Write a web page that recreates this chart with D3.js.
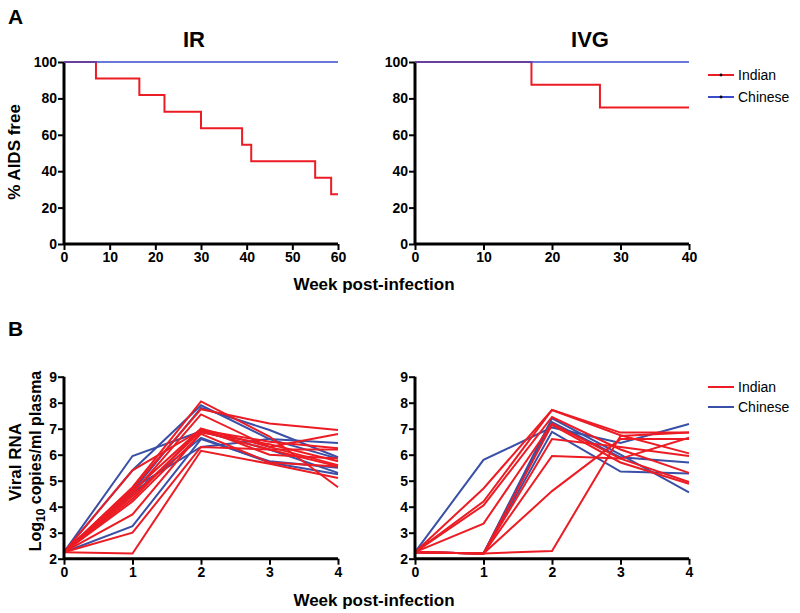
<!DOCTYPE html>
<html><head><meta charset="utf-8">
<script src="https://cdn.jsdelivr.net/npm/d3@7"></script>
<style>body{margin:0;background:#fff}svg{display:block;font-family:"Liberation Sans",Arial,sans-serif}</style>
</head><body><svg id="c" width="800" height="613"></svg>
<script>
// ---------- DATA ----------
const seriesNames = ["Indian", "Chinese"];
// Panel A: survival (% AIDS free)
const irIndianWeeks = [0, 7, 16.5, 22, 30, 39, 41, 55, 58.5, 60];
const irIndianPct   = [100, 90.9, 81.8, 72.7, 63.6, 54.5, 45.5, 36.4, 27.3, 27.3];
const irChineseWeeks = [0, 60];
const irChinesePct   = [100, 100];
const ivgIndianWeeks = [0, 17, 27, 40];
const ivgIndianPct   = [100, 87.5, 75, 75];
const ivgChineseWeeks = [0, 40];
const ivgChinesePct   = [100, 100];
const survTicksY = [0, 20, 40, 60, 80, 100];
const irTicksX = [0, 10, 20, 30, 40, 50, 60];
const ivgTicksX = [0, 10, 20, 30, 40];
// Panel B: viral RNA (log10 copies/ml), weeks 0..4
const vlWeeks = [0, 1, 2, 3, 4];
const irIndianVL = [
  [2.25, 2.2, 6.15, 5.65, 5.1],
  [2.25, 3.0, 6.3, 6.2, 5.55],
  [2.25, 3.7, 6.85, 6.4, 5.75],
  [2.25, 5.4, 6.95, 6.5, 6.25],
  [2.25, 4.75, 8.05, 6.7, 4.75],
  [2.25, 4.7, 7.75, 7.2, 6.95],
  [2.25, 4.6, 7.0, 6.3, 6.8],
  [2.25, 4.5, 7.55, 6.3, 5.6],
  [2.25, 4.4, 6.9, 6.2, 6.2],
  [2.25, 4.3, 7.0, 6.0, 5.85],
  [2.25, 4.2, 6.8, 5.7, 5.55]
];
const irChineseVL = [
  [2.25, 5.95, 6.9, 6.2, 5.3],
  [2.25, 5.4, 7.9, 6.6, 5.85],
  [2.25, 4.6, 7.8, 6.95, 5.9],
  [2.25, 3.25, 6.6, 5.75, 5.5],
  [2.25, 4.7, 6.3, 6.6, 6.45],
  [2.25, 4.5, 6.65, 5.7, 5.25]
];
const ivgIndianVL = [
  [2.25, 4.7, 7.72, 6.85, 6.85],
  [2.25, 4.2, 7.72, 6.75, 6.05],
  [2.25, 4.05, 7.45, 6.2, 5.3],
  [2.25, 3.35, 7.2, 5.85, 4.95],
  [2.25, 2.2, 6.6, 6.3, 5.95],
  [2.25, 2.2, 5.95, 5.85, 6.65],
  [2.25, 2.2, 4.6, 6.6, 6.6],
  [2.25, 2.2, 2.3, 6.72, 6.85],
  [2.25, 2.2, 7.15, 5.7, 4.88]
];
const ivgChineseVL = [
  [2.25, 5.8, 7.05, 6.45, 7.18],
  [2.25, 2.2, 7.4, 6.0, 4.55],
  [2.25, 2.2, 6.88, 5.35, 5.28],
  [2.25, 2.2, 7.25, 5.9, 5.7]
];
const vlTicksY = [2, 3, 4, 5, 6, 7, 8, 9];
const vlTicksX = [0, 1, 2, 3, 4];

// ---------- STYLE ----------
const RED = "#ec1c24", BLUE_A = "#3b4bcc", BLUE_B = "#3a4fa6";
const svg = d3.select("#c");

function axes(g, x, y, xt, yt) {
  const ax = g.append("g").attr("transform", `translate(0,${y.range()[0]})`)
    .call(d3.axisBottom(x).tickValues(xt).tickSize(6).tickPadding(2).tickFormat(d3.format("d")));
  const ay = g.append("g").attr("transform", `translate(${x.range()[0]},0)`)
    .call(d3.axisLeft(y).tickValues(yt).tickSize(6).tickPadding(1).tickFormat(d3.format("d")));
  [ax, ay].forEach(a => {
    a.select(".domain").attr("stroke", "#000").attr("stroke-width", 3);
    a.selectAll(".tick line").attr("stroke", "#000").attr("stroke-width", 2);
    a.selectAll(".tick text").attr("fill", "#000").attr("font-size", 14).attr("font-weight", "bold")
      .attr("font-family", "'Liberation Sans',Arial,sans-serif");
  });
  ax.select(".domain").attr("d", `M${x.range()[0]},0H${x.range()[1]}`);
  ay.select(".domain").attr("d", `M0,${y.range()[0]}V${y.range()[1]}`);
}

// Panel A
const yA = d3.scaleLinear().domain([0, 100]).range([244, 62]);
const xIR = d3.scaleLinear().domain([0, 60]).range([64, 338]);
const xIVG = d3.scaleLinear().domain([0, 40]).range([415, 689]);
const gA1 = svg.append("g"), gA2 = svg.append("g");
axes(gA1, xIR, yA, irTicksX, survTicksY);
axes(gA2, xIVG, yA, ivgTicksX, survTicksY);
function step(g, x, wk, pct, col, w) {
  g.append("path").datum(wk.map((d, i) => [d, pct[i]]))
    .attr("d", d3.line().x(d => x(d[0])).y(d => yA(d[1])).curve(d3.curveStepAfter))
    .attr("fill", "none").attr("stroke", col).attr("stroke-width", w);
}
step(gA1, xIR, irIndianWeeks, irIndianPct, RED, 2);
step(gA1, xIR, irChineseWeeks, irChinesePct, BLUE_A, 1.3);
step(gA2, xIVG, ivgIndianWeeks, ivgIndianPct, RED, 2);
step(gA2, xIVG, ivgChineseWeeks, ivgChinesePct, BLUE_A, 1.3);

// Panel B
const yB = d3.scaleLinear().domain([2, 9]).range([558.7, 376.7]);
const xB1 = d3.scaleLinear().domain([0, 4]).range([64, 338]);
const xB2 = d3.scaleLinear().domain([0, 4]).range([415, 689]);
const gB1 = svg.append("g"), gB2 = svg.append("g");
function vl(g, x, sets, col) {
  const line = d3.line().x((d, i) => x(vlWeeks[i])).y(d => yB(d));
  g.selectAll(null).data(sets).enter().append("path")
    .attr("d", line).attr("fill", "none").attr("stroke", col).attr("stroke-width", 2)
    .attr("stroke-linejoin", "miter");
}
vl(gB1, xB1, irChineseVL, BLUE_B);
vl(gB1, xB1, irIndianVL, RED);
vl(gB2, xB2, ivgChineseVL, BLUE_B);
vl(gB2, xB2, ivgIndianVL, RED);
axes(gB1, xB1, yB, vlTicksX, vlTicksY);
axes(gB2, xB2, yB, vlTicksX, vlTicksY);

// Text
function txt(x, y, s, size, weight, anchor, rot) {
  const t = svg.append("text").attr("x", x).attr("y", y).text(s)
    .attr("font-size", size).attr("font-weight", weight || "bold")
    .attr("text-anchor", anchor || "middle").attr("fill", "#000");
  if (rot) t.attr("transform", `rotate(-90,${x},${y})`);
  return t;
}
txt(8, 24, "A", 21, "bold", "start");
txt(8, 336, "B", 21, "bold", "start");
txt(194, 47, "IR", 22);
txt(590, 47, "IVG", 22);
txt(20, 152, "% AIDS free", 17, "bold", "middle", true);
txt(374, 290, "Week post-infection", 17);
txt(374, 606, "Week post-infection", 17);
txt(21, 462, "Viral RNA", 17, "bold", "middle", true);
const lg = txt(41, 461, "", 16, "bold", "middle", true);
lg.append("tspan").text("Log");
lg.append("tspan").text("10").attr("font-size", 12).attr("dy", 4);
lg.append("tspan").text(" copies/ml plasma").attr("dy", -4);

// Legends
function legend(y0, dy, cols, marker) {
  seriesNames.forEach((n, i) => {
    const y = y0 + i * dy;
    svg.append("line").attr("x1", 708).attr("x2", 734).attr("y1", y).attr("y2", y)
      .attr("stroke", cols[i]).attr("stroke-width", 2);
    if (marker) svg.append("circle").attr("cx", 721).attr("cy", y).attr("r", 1.4).attr("fill", "#000");
    txt(738, y + 5, n, 14, "normal", "start");
  });
}
legend(75, 22, [RED, BLUE_A], true);
legend(387, 20, [RED, BLUE_B], false);
</script></body></html>
